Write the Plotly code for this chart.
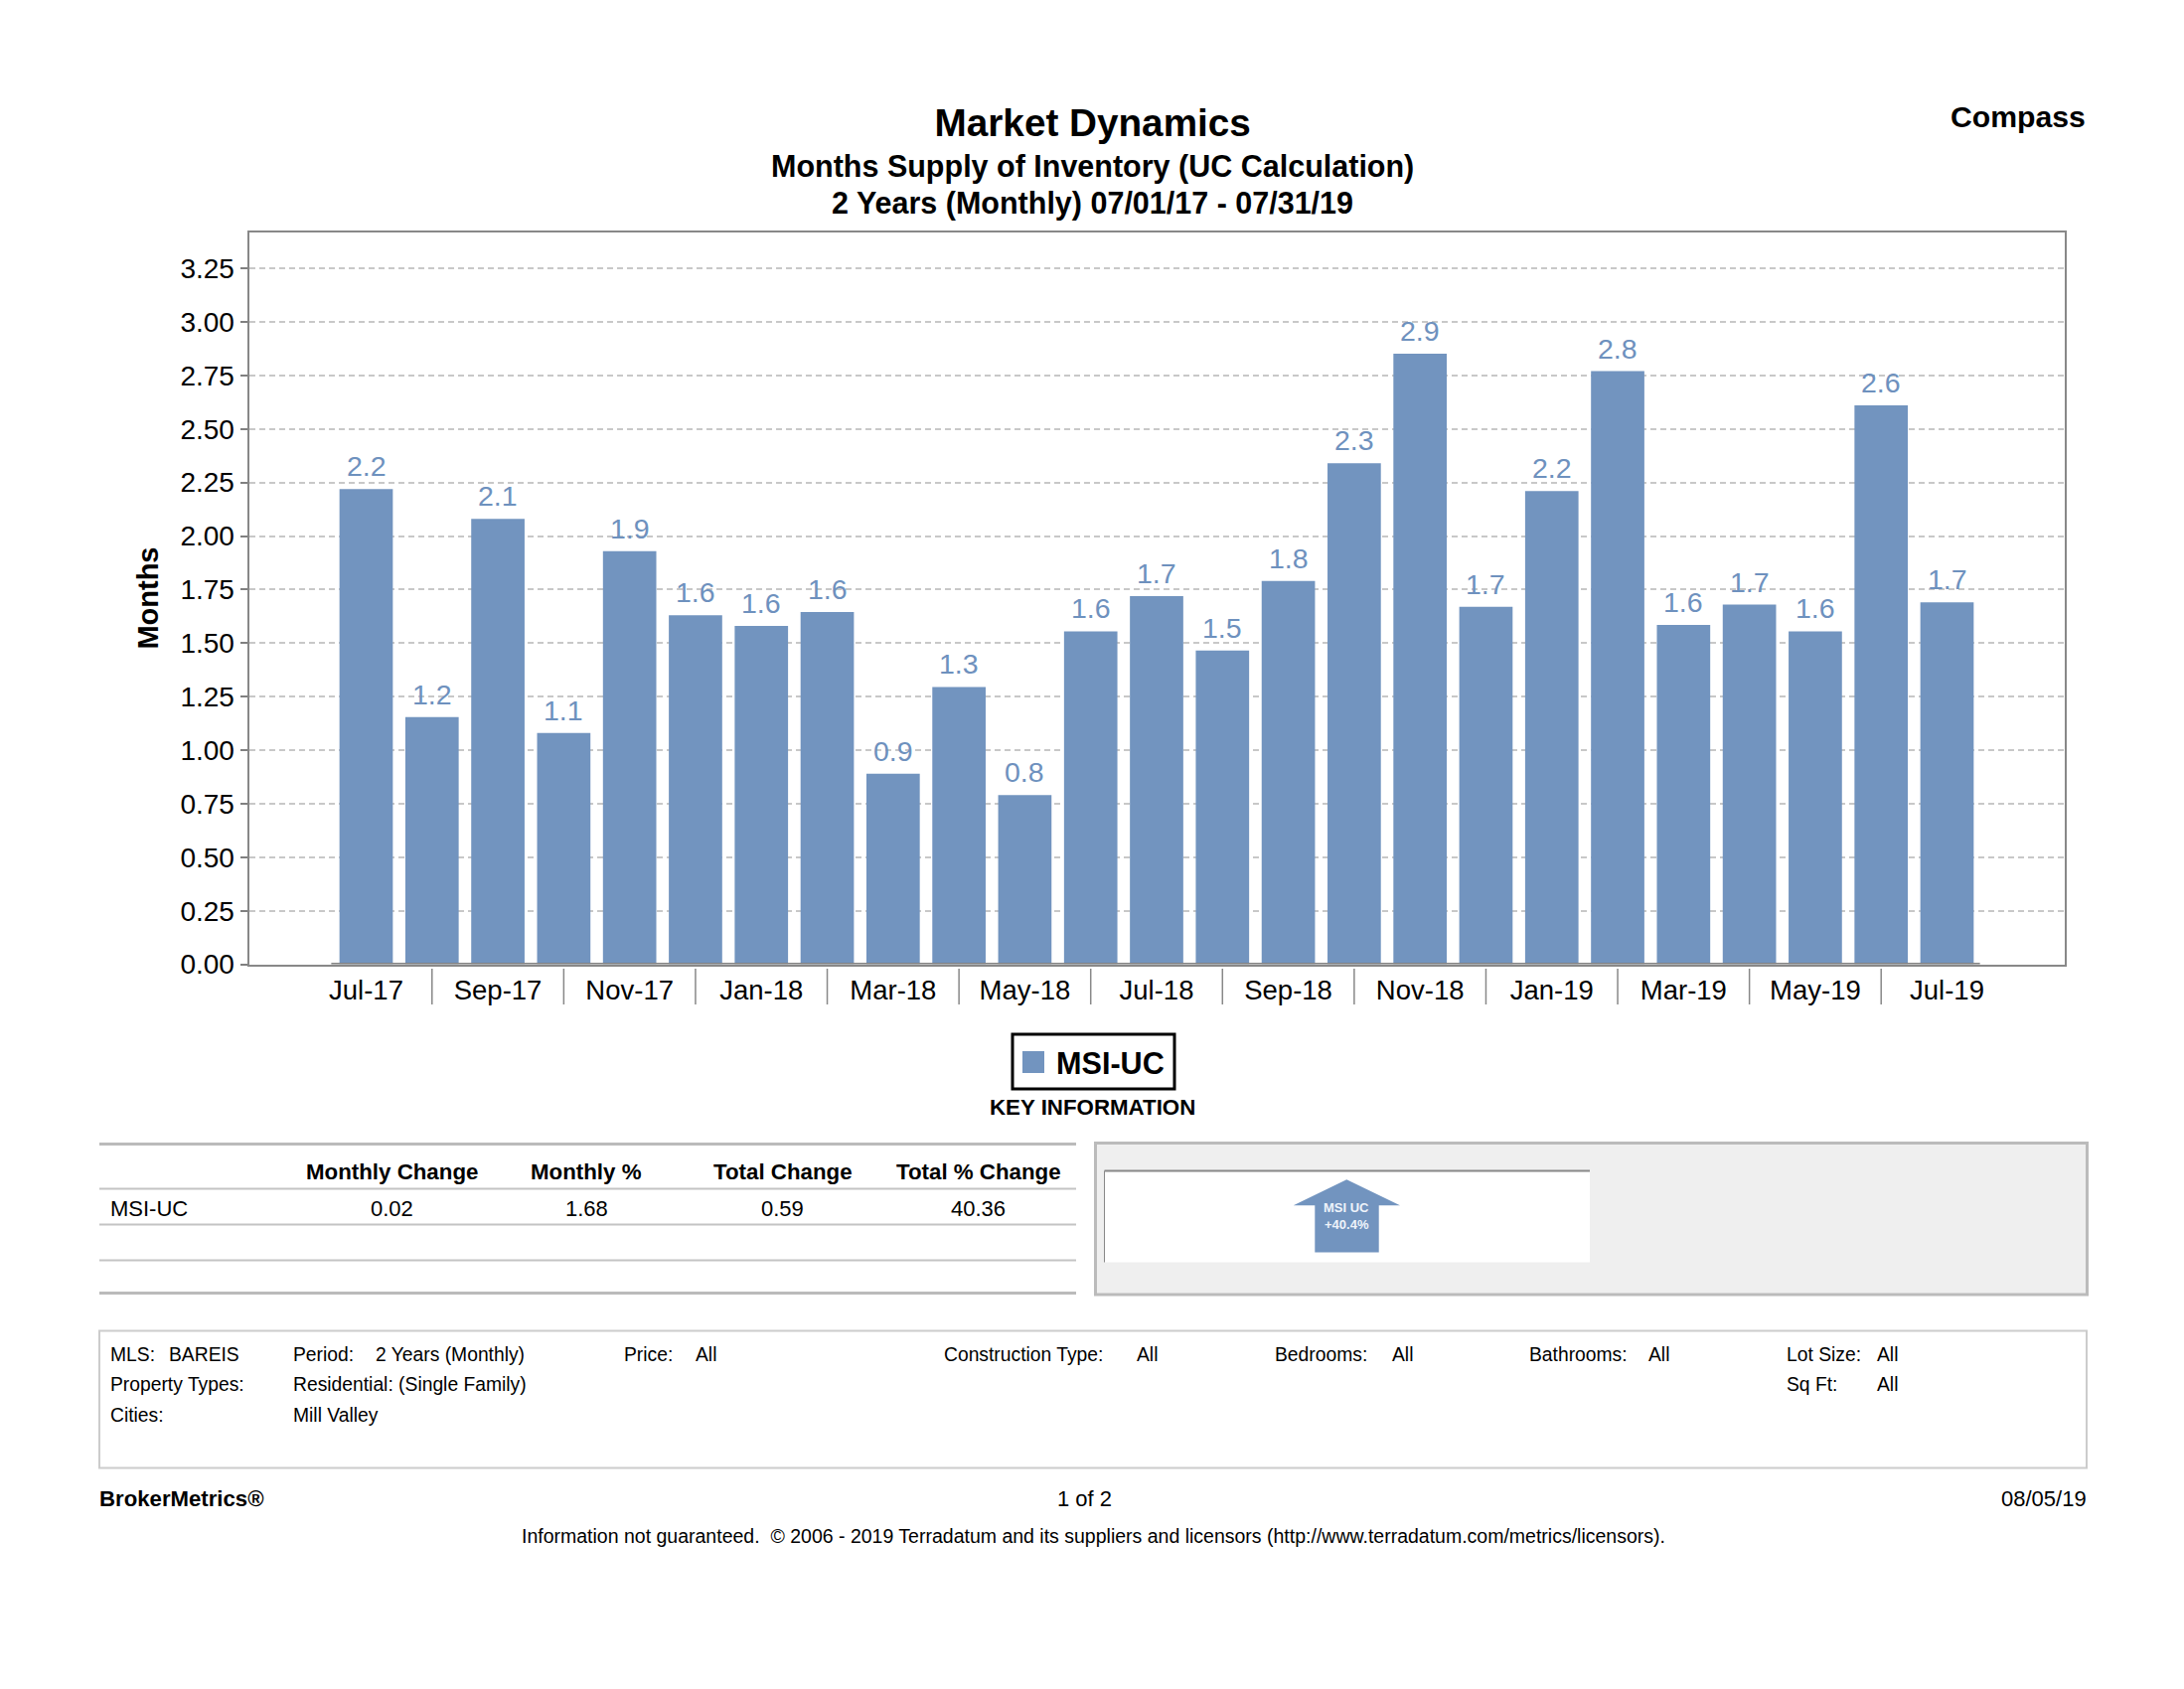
import plotly.graph_objects as go

W, H = 2198, 1700
months = ["Jul-17","Aug-17","Sep-17","Oct-17","Nov-17","Dec-17","Jan-18","Feb-18","Mar-18","Apr-18","May-18","Jun-18",
          "Jul-18","Aug-18","Sep-18","Oct-18","Nov-18","Dec-18","Jan-19","Feb-19","Mar-19","Apr-19","May-19","Jun-19","Jul-19"]
msi_uc = [2.22,1.155,2.08,1.08,1.93,1.63,1.58,1.645,0.89,1.295,0.79,1.555,1.72,1.465,1.79,2.34,2.852,1.67,2.21,2.77,1.585,1.68,1.555,2.61,1.69]
bar_labels = ["2.2","1.2","2.1","1.1","1.9","1.6","1.6","1.6","0.9","1.3","0.8","1.6","1.7","1.5","1.8","2.3","2.9","1.7","2.2","2.8","1.6","1.7","1.6","2.6","1.7"]
y_ticks = [0,0.25,0.5,0.75,1,1.25,1.5,1.75,2,2.25,2.5,2.75,3,3.25]
table_headers = ["Monthly Change","Monthly %","Total Change","Total % Change"]
table_row_name = "MSI-UC"
table_values = ["0.02","1.68","0.59","40.36"]

FONT = "Liberation Sans"
BAR = "#7294BF"
LABEL = "#6E91BE"

def px(x): return x / W
def py(y): return 1 - y / H

annotations = []
def text(x, y, s, size, bold=False, anchor="left", color="#000000", vanchor="middle"):
    annotations.append(dict(xref="paper", yref="paper", x=px(x), y=py(y), text=f"<b>{s}</b>" if bold else s,
                            showarrow=False, xanchor=anchor, yanchor=vanchor,
                            font=dict(family=FONT, size=size, color=color), borderpad=0, borderwidth=0))

shapes = []
def rect(x0, y0, x1, y1, fill=None, line=None, lw=0, layer="above"):
    shapes.append(dict(type="rect", xref="paper", yref="paper", x0=px(x0), x1=px(x1), y0=py(y0), y1=py(y1),
                       fillcolor=fill or "rgba(0,0,0,0)", line=dict(color=line or "rgba(0,0,0,0)", width=lw), layer=layer))
def hline(x0, x1, y, color, lw):
    shapes.append(dict(type="line", xref="paper", yref="paper", x0=px(x0), x1=px(x1), y0=py(y), y1=py(y), line=dict(color=color, width=lw)))
def vline(x, y0, y1, color, lw):
    shapes.append(dict(type="line", xref="paper", yref="paper", x0=px(x), x1=px(x), y0=py(y0), y1=py(y1), line=dict(color=color, width=lw)))

fig = go.Figure(go.Bar(x=months, y=msi_uc, name="MSI-UC", marker=dict(color=BAR, line=dict(width=0)), cliponaxis=False))

# value labels above the bars
for m, v, t in zip(months, msi_uc, bar_labels):
    annotations.append(dict(xref="x", yref="y", x=m, y=v, text=t, showarrow=False, xanchor="center", yanchor="bottom",
                            yshift=6, font=dict(family=FONT, size=28.5, color=LABEL), borderpad=0))

# separators between category labels and thick baseline under the bars
for m in months[1:-1:2]:
    shapes.append(dict(type="line", xref="x", yref="paper", x0=m, x1=m, y0=py(975), y1=py(1011), line=dict(color="#888888", width=1.5)))
shapes.append(dict(type="line", xref="x", yref="y", x0=-0.53, x1=24.5, y0=0, y1=0, line=dict(color="#808080", width=3)))

# headings
text(1099.7, 167.5, "Months Supply of Inventory (UC Calculation)", 30.5, True, "center")
text(1099.7, 204, "2 Years (Monthly) 07/01/17 - 07/31/19", 30.5, True, "center")
text(2099, 117.5, "Compass", 30.2, True, "right")

# legend
rect(1019, 1041, 1182, 1096, "#ffffff", "#000000", 3)
rect(1029, 1058, 1051, 1080, BAR)
text(1063, 1069.5, "MSI-UC", 30.6, True)
text(1099, 1114, "KEY INFORMATION", 22.3, True, "center")

# table
hline(100, 1083, 1151.5, "#bbbbbb", 3)
hline(100, 1083, 1196.5, "#c4c4c4", 2)
hline(100, 1083, 1232.5, "#c4c4c4", 2)
hline(100, 1083, 1268.5, "#c4c4c4", 2)
hline(100, 1083, 1301.5, "#bbbbbb", 3)
col_x = [394.6, 590, 787.5, 984.6]
for cx, h, v in zip(col_x, table_headers, table_values):
    text(cx, 1179.5, h, 22.3, True, "center")
    text(cx, 1216, v, 22, False, "center")
text(111, 1216, table_row_name, 22)

# arrow panel
rect(1102.5, 1150.5, 2100.5, 1303, "#efefef", "#bbbbbb", 3)
rect(1111.5, 1178.5, 1600, 1270.5, "#ffffff")
hline(1111.5, 1600, 1178.5, "#888888", 2)
vline(1111.5, 1178.5, 1270.5, "#888888", 1)
pts = [(1355.3,1187.2),(1409,1213.2),(1387.7,1213.2),(1387.7,1260.5),(1323.3,1260.5),(1323.3,1213.2),(1301.7,1213.2)]
shapes.append(dict(type="path", xref="paper", yref="paper", fillcolor=BAR, line=dict(width=0),
                   path="M" + " L".join(f"{px(a):.5f},{py(b):.5f}" for a, b in pts) + " Z"))
text(1355, 1215.5, "MSI UC", 13, True, "center", "#eef3fa")
text(1355, 1232, "+40.4%", 13, True, "center", "#eef3fa")

# filter box
rect(100, 1339.5, 2100, 1477.5, None, "#cccccc", 2)
for x, y, s in [(111,1363,"MLS:"),(170,1363,"BAREIS"),(295,1363,"Period:"),(378,1363,"2 Years (Monthly)"),
                (628.4,1363,"Price:"),(700,1363,"All"),(950,1363,"Construction Type:"),(1144,1363,"All"),
                (1283,1363,"Bedrooms:"),(1400.6,1363,"All"),(1539.4,1363,"Bathrooms:"),(1658.8,1363,"All"),
                (1798,1363,"Lot Size:"),(1889,1363,"All"),
                (111,1393.5,"Property Types:"),(295,1393.5,"Residential: (Single Family)"),(1798,1393.5,"Sq Ft:"),(1889,1393.5,"All"),
                (111,1424,"Cities:"),(295,1424,"Mill Valley")]:
    text(x, y, s, 19.3)

# footer
text(100, 1508.5, "BrokerMetrics®", 22.2, True)
text(1091, 1508.5, "1 of 2", 22, False, "center")
text(2100, 1508.5, "08/05/19", 22, False, "right")
text(1100, 1546, "Information not guaranteed.  © 2006 - 2019 Terradatum and its suppliers and licensors (http://www.terradatum.com/metrics/licensors).", 19.5, False, "center")

fig.update_layout(
    width=W, height=H, autosize=False, margin=dict(l=0, r=0, t=0, b=0, pad=0),
    paper_bgcolor="#ffffff", plot_bgcolor="#ffffff", showlegend=False, bargap=0.19,
    font=dict(family=FONT, color="#000000"),
    title=dict(text="<b>Market Dynamics</b>", x=px(1099.7), y=py(123), xref="paper", yref="paper", xanchor="center", yanchor="middle",
               automargin=False, font=dict(family=FONT, size=38.7, color="#000000")),
    annotations=annotations, shapes=shapes,
    xaxis=dict(domain=[px(250.5), px(2077.5)], range=[-1.78, 25.78], type="category", anchor="y", automargin=False,
               tickmode="array", tickvals=months[0::2], ticktext=months[0::2],
               tickfont=dict(family=FONT, size=27.5), ticks="", ticklen=0, tickangle=0,
               showgrid=False, zeroline=False, showline=True, linecolor="#888888", linewidth=2, mirror=True),
    yaxis=dict(domain=[py(970.6), py(233.5)], range=[0, 3.42], anchor="x", automargin=False,
               tickmode="array", tickvals=y_ticks, ticktext=[f"{v:.2f}" for v in y_ticks],
               tickfont=dict(family=FONT, size=28), ticks="outside", ticklen=7, tickwidth=2, tickcolor="#808080",
               showgrid=True, gridcolor="#c8c8c8", griddash="6px,4px", gridwidth=1.5, zeroline=False,
               showline=True, linecolor="#888888", linewidth=2, mirror=True,
               title=dict(text="<b>Months</b>", font=dict(family=FONT, size=29), standoff=13)),
)

fig.write_html("out.html", config=dict(displayModeBar=False),
               post_script="document.body.style.margin='0';document.body.style.overflow='hidden';")
